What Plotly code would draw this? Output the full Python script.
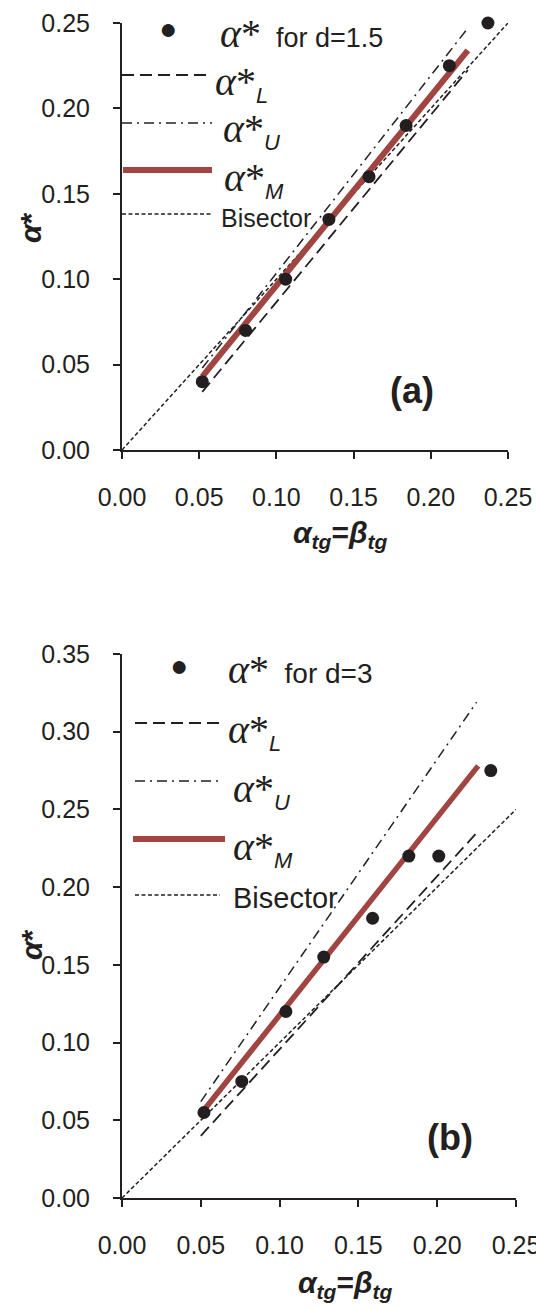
import plotly.graph_objects as go

# ---------------- data ----------------
# Panel (a): d = 1.5
a_pts_x = [0.052, 0.080, 0.106, 0.134, 0.160, 0.184, 0.212, 0.237]
a_pts_y = [0.040, 0.070, 0.100, 0.135, 0.160, 0.190, 0.225, 0.250]
a_L_x = [0.052, 0.224]
a_L_y = [0.034, 0.2225]
a_U_x = [0.052, 0.224]
a_U_y = [0.048, 0.247]
a_M_x = [0.052, 0.224]
a_M_y = [0.043, 0.234]
a_bis_x = [0.0, 0.25]
a_bis_y = [0.0, 0.25]

# Panel (b): d = 3
b_pts_x = [0.052, 0.076, 0.104, 0.128, 0.159, 0.182, 0.201, 0.234]
b_pts_y = [0.055, 0.075, 0.120, 0.155, 0.180, 0.220, 0.220, 0.275]
b_L_x = [0.050, 0.226]
b_L_y = [0.040, 0.236]
b_U_x = [0.050, 0.225]
b_U_y = [0.062, 0.319]
b_M_x = [0.050, 0.226]
b_M_y = [0.054, 0.278]
b_bis_x = [0.0, 0.25]
b_bis_y = [0.0, 0.25]

x_ticks = [0.00, 0.05, 0.10, 0.15, 0.20, 0.25]
ya_ticks = [0.00, 0.05, 0.10, 0.15, 0.20, 0.25]
yb_ticks = [0.00, 0.05, 0.10, 0.15, 0.20, 0.25, 0.30, 0.35]

# ---------------- styles ----------------
W, H = 536, 1309
INK = "#231f20"
RED = "#A04541"
SANS = "Liberation Sans"
SERIF = "Liberation Serif"
L_DASH = "12px,6px"
U_DASH = "10px,5px,2px,5px"
B_DASH = "4px,2.5px"


def px(x):
    return x / W


def py(y):
    return 1 - y / H


fig = go.Figure()


def add_panel(xa, ya, Lx, Ly, Ux, Uy, Mx, My, Bx, By, Px, Py, mw):
    fig.add_trace(go.Scatter(x=Bx, y=By, mode="lines", xaxis=xa, yaxis=ya,
                             line=dict(color=INK, width=1.5, dash=B_DASH),
                             showlegend=False, hoverinfo="skip"))
    fig.add_trace(go.Scatter(x=Lx, y=Ly, mode="lines", xaxis=xa, yaxis=ya,
                             line=dict(color=INK, width=1.8, dash=L_DASH),
                             showlegend=False, hoverinfo="skip"))
    fig.add_trace(go.Scatter(x=Ux, y=Uy, mode="lines", xaxis=xa, yaxis=ya,
                             line=dict(color=INK, width=1.5, dash=U_DASH),
                             showlegend=False, hoverinfo="skip"))
    fig.add_trace(go.Scatter(x=Mx, y=My, mode="lines", xaxis=xa, yaxis=ya,
                             line=dict(color=RED, width=mw),
                             showlegend=False, hoverinfo="skip"))
    fig.add_trace(go.Scatter(x=Px, y=Py, mode="markers", xaxis=xa, yaxis=ya,
                             marker=dict(color=INK, size=13),
                             cliponaxis=False,
                             showlegend=False, hoverinfo="skip"))


add_panel("x", "y", a_L_x, a_L_y, a_U_x, a_U_y, a_M_x, a_M_y,
          a_bis_x, a_bis_y, a_pts_x, a_pts_y, 6)
add_panel("x2", "y2", b_L_x, b_L_y, b_U_x, b_U_y, b_M_x, b_M_y,
          b_bis_x, b_bis_y, b_pts_x, b_pts_y, 5.5)

axis_common = dict(
    showline=True, linecolor=INK, linewidth=2, mirror=False,
    ticks="outside", ticklen=7, tickwidth=2, tickcolor=INK,
    showgrid=False, zeroline=False, tickformat=".2f",
    tickfont=dict(family=SANS, size=25, color=INK),
    fixedrange=True, automargin=False, ticklabeloverflow="allow",
)

fig.update_layout(
    width=W, height=H,
    margin=dict(l=0, r=0, t=0, b=0),
    paper_bgcolor="white", plot_bgcolor="white",
    showlegend=False,
    xaxis=dict(axis_common, domain=[px(122), px(508)], range=[0, 0.25],
               tickvals=x_ticks, anchor="y", ticklabelstandoff=17),
    yaxis=dict(axis_common, domain=[py(450), py(23)], range=[0, 0.25],
               tickvals=ya_ticks, anchor="x", ticklabelstandoff=18),
    xaxis2=dict(axis_common, domain=[px(122), px(516)], range=[0, 0.25],
                tickvals=x_ticks, anchor="y2", ticklabelstandoff=17),
    yaxis2=dict(axis_common, domain=[py(1198), py(654)], range=[0, 0.35],
                tickvals=yb_ticks, anchor="x2", ticklabelstandoff=18),
)

shapes = []
annots = []


def legend_line(x0, x1, y, dash, color=INK, width=1.5):
    shapes.append(dict(type="line", xref="paper", yref="paper",
                       x0=px(x0), x1=px(x1), y0=py(y), y1=py(y),
                       line=dict(color=color, width=width, dash=dash)))


def text(x, y, t, size, family=SANS, xanchor="left", angle=0, color=INK):
    annots.append(dict(xref="paper", yref="paper", x=px(x), y=py(y),
                       text=t, showarrow=False, xanchor=xanchor,
                       yanchor="middle", textangle=angle,
                       font=dict(family=family, size=size, color=color)))


def alpha_sub(letter, subsize):
    return ('<i>α</i>*<sub><span style="font-family:%s;font-size:%dpx">'
            '<i>%s</i></span></sub>' % (SANS, subsize, letter))


# legend (a)
text(168, 29, "●", 30, xanchor="center")
text(218, 33, '<i>α</i>*<span style="font-family:%s;font-size:27px">'
     '  for d=1.5</span>' % SANS, 40, family=SERIF)
legend_line(122, 208, 75, L_DASH, width=1.8)
text(213, 83, alpha_sub("L", 22), 40, family=SERIF)
legend_line(122, 212, 123, U_DASH)
text(221, 131, alpha_sub("U", 22), 40, family=SERIF)
legend_line(123, 212, 170, "solid", color=RED, width=6)
text(222, 179, alpha_sub("M", 22), 40, family=SERIF)
legend_line(122, 212, 214, B_DASH)
text(219, 218, "Bisector", 25)

# legend (b)
text(179, 665, "●", 30, xanchor="center")
text(226, 669, '<i>α</i>*<span style="font-family:%s;font-size:28px">'
     '  for d=3</span>' % SANS, 40, family=SERIF)
legend_line(135, 220, 723, L_DASH, width=1.8)
text(226, 731, alpha_sub("L", 22), 40, family=SERIF)
legend_line(135, 222, 781, U_DASH)
text(231, 790, alpha_sub("U", 22), 40, family=SERIF)
legend_line(133, 225, 839, "solid", color=RED, width=6)
text(231, 848, alpha_sub("M", 22), 40, family=SERIF)
legend_line(135, 220, 895, B_DASH)
text(231, 898, "Bisector", 29)

# axis titles
ytitle = "<b><i>α</i>*</b>"
xtitle = "<b><i>α</i><sub><i>tg</i></sub>=<i>β</i><sub><i>tg</i></sub></b>"
text(31, 228, ytitle, 30, xanchor="center", angle=-90)
text(31, 945, ytitle, 30, xanchor="center", angle=-90)
text(340, 535, xtitle, 30, xanchor="center")
text(345, 1284, xtitle, 30, xanchor="center")

# panel labels
text(412, 390, "<b>(a)</b>", 36, xanchor="center")
text(450, 1137, "<b>(b)</b>", 36, xanchor="center")

fig.update_layout(shapes=shapes, annotations=annots)

fig.write_html("out.html")
